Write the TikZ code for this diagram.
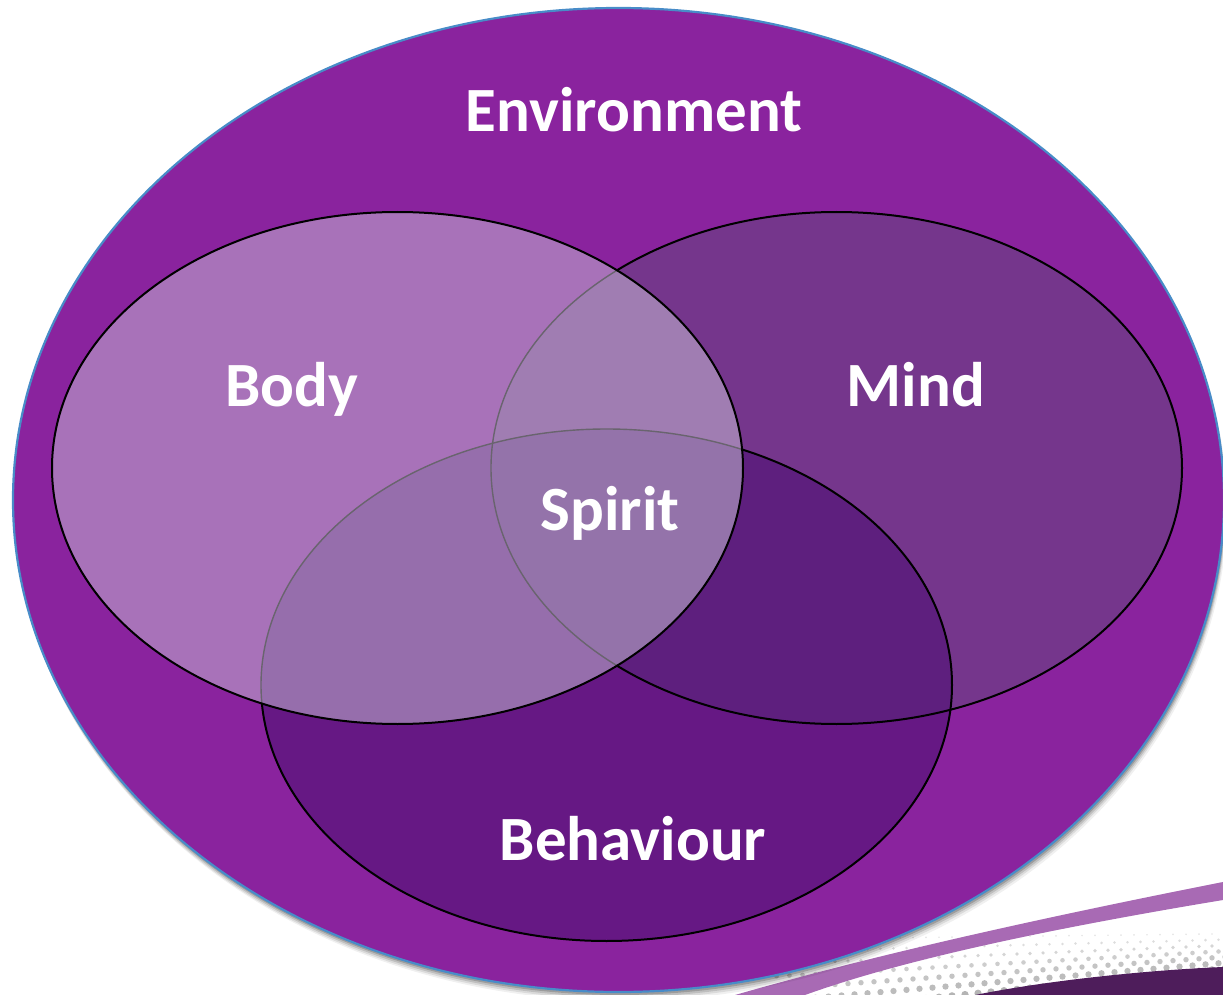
\documentclass[tikz,border=0pt]{standalone}
\usepackage{fontspec}
\setmainfont{Carlito}
\definecolor{envc}{RGB}{138,35,158}
\definecolor{envline}{RGB}{72,140,200}
\definecolor{bodyc}{RGB}{168,114,185}
\definecolor{mindc}{RGB}{117,54,140}
\definecolor{behc}{RGB}{102,24,132}
\definecolor{bodymind}{RGB}{160,125,178}
\definecolor{bodybeh}{RGB}{150,110,172}
\definecolor{mindbeh}{RGB}{94,31,126}
\definecolor{spiritc}{RGB}{148,115,170}
\definecolor{innerline}{RGB}{105,100,110}
\definecolor{swoosh}{RGB}{168,106,180}
\definecolor{darkswoosh}{RGB}{78,29,91}
\definecolor{dotc}{RGB}{180,180,180}
\tikzset{
  envpath/.style={insert path={(618.5,500) ellipse [x radius=302.75pt, y radius=246pt]}},
  bodypath/.style={insert path={(397.5,468) ellipse [x radius=172.75pt, y radius=128pt]}},
  mindpath/.style={insert path={(836.5,468) ellipse [x radius=172.75pt, y radius=128pt]}},
  behpath/.style={insert path={(606.5,685) ellipse [x radius=172.75pt, y radius=128pt]}},
  label/.style={text=white, font=\bfseries\fontsize{31.5pt}{36pt}\selectfont, anchor=base, inner sep=0pt},
  outline/.style={draw=black, line width=1pt},
  faint/.style={draw=innerline, line width=0.7pt}
}
\begin{document}
\begin{tikzpicture}[x=0.5pt,y=-0.5pt]
\useasboundingbox (0,0) rectangle (1223,995);
\clip (0,0) rectangle (1223,995);

% halftone dots behind the swooshes: rows fan out from a flat top row
\foreach \j in {0,...,6} {
  \foreach \i in {0,...,36} {
    \pgfmathsetmacro\xx{770 + \i*13 + mod(\j,2)*6.5}
    \pgfmathsetmacro\ylo{995 - (\xx-960)*0.1}
    \pgfmathsetmacro\yhi{937 - (\xx-960)*0.012}
    \pgfmathsetmacro\yy{\ylo + (\yhi-\ylo)*\j/6}
    \pgfmathsetmacro\rr{1.8 - 0.22*\j}
    \pgfmathsetmacro\op{1 - 0.11*\j}
    \fill[dotc, opacity=\op] (\xx,\yy) circle [radius=\rr pt];
  }
}
% light purple swoosh
\fill[swoosh] (735,995) .. controls (850,962) and (1000,926) .. (1223,882)
  -- (1223,900) .. controls (1000,937) and (880,968) .. (805,995) -- cycle;
% dark purple swoosh
\fill[darkswoosh] (975,995) .. controls (1050,980) and (1150,970) .. (1223,967)
  -- (1223,995) -- cycle;

% soft shadow of the outer ellipse, cast downwards
\foreach \dx/\dy/\o in {3/9/0.06,2/7/0.09,1.5/5/0.13,1/3/0.18} {
  \fill[black, opacity=\o, shift={(\dx,\dy)}, envpath];
}
% environment
\path[fill=envc, draw=envline, line width=1.1pt, envpath];

% single-set regions
\fill[behc, behpath];
\fill[mindc, mindpath];
\begin{scope}
  \clip[mindpath];
  \fill[mindbeh, behpath];
\end{scope}
\fill[bodyc, bodypath];
\begin{scope}
  \clip[bodypath];
  \fill[bodymind, mindpath];
  \fill[bodybeh, behpath];
  \clip[mindpath];
  \fill[spiritc, behpath];
\end{scope}

% outlines: faint where seen through Body, black elsewhere
\begin{scope}
  \clip[bodypath];
  \path[faint, mindpath];
  \path[faint, behpath];
\end{scope}
\begin{scope}[even odd rule]
  \clip (-20,-20) rectangle (1250,1020)
        (397.5,468) ellipse [x radius=172.75pt, y radius=128pt];
  \path[outline, mindpath];
  \path[outline, behpath];
\end{scope}
\path[outline, bodypath];

% labels
\node[label] (env) at (634,132) {Environment};
\node[label] (body) at (292,407) {Body};
\node[label] (mind) at (916,407) {Mind};
\node[label] (spirit) at (610,530) {Spirit};
\node[label] (beh) at (633,860) {Behaviour};
\end{tikzpicture}
\end{document}
